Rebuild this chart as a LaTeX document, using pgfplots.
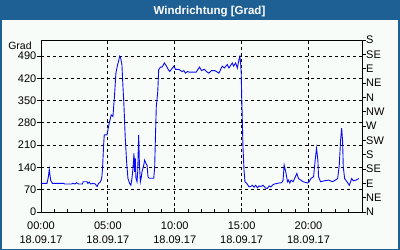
\documentclass[border=0pt]{standalone}
\usepackage{fontspec}
\setmainfont{Liberation Sans}
\usepackage{pgfplots}
\pgfplotsset{compat=1.18}
\definecolor{bar}{RGB}{30,96,148}
\definecolor{bg}{RGB}{248,252,248}
\definecolor{wline}{RGB}{10,10,245}
\begin{document}
\begin{tikzpicture}[x=1bp,y=1bp]
\useasboundingbox (0,0) rectangle (400,250);
\fill[bar] (0,0) rectangle (400,250);
\fill[bg] (2,1.5) rectangle (398,230);
\node[text=white, font=\bfseries\fontsize{11.5bp}{12bp}\selectfont, anchor=base] at (209.5,236) {Windrichtung [Grad]};
\node[font=\fontsize{10.5bp}{12bp}\selectfont, anchor=base, inner sep=0pt] at (20,200.5) {Grad};
\begin{axis}[
  at={(41bp,38bp)}, anchor=south west,
  scale only axis, width=321bp, height=172bp,
  xmin=0, xmax=24, ymin=0, ymax=540,
  xtick={0,5,10,15,20},
  xticklabels={00:00\\18.09.17,05:00\\18.09.17,10:00\\18.09.17,15:00\\18.09.17,20:00\\18.09.17},
  minor xtick={1,2,3,4,6,7,8,9,11,12,13,14,16,17,18,19,21,22,23},
  ytick={0,70,140,210,280,350,420,490},
  yticklabels={0,70,140,210,280,350,420,490},
  xtick pos=left, ytick pos=left,
  tick align=inside,
  major tick length=4bp, minor tick length=3bp,
  ytick style={xshift=-4bp},
  grid=major,
  major grid style={black, dash pattern=on 3bp off 3bp, line width=0.8bp},
  axis line style={black, line width=0.8bp},
  tick style={black, line width=0.8bp},
  tick label style={font=\fontsize{11bp}{14bp}\selectfont},
  yticklabel style={inner sep=0pt, xshift=-4.5bp},
  xticklabel style={align=center, inner sep=0pt, yshift=-9.5bp},
  /pgf/number format/assume math mode=true,
]
\addplot[wline, line width=0.9bp] coordinates {
(0.00,90) (0.45,90) (0.55,110) (0.62,134) (0.72,100) (0.85,90) (1.70,90) (1.75,88)
(2.30,88) (2.35,90) (2.55,88) (2.65,92) (2.80,88) (3.10,88) (3.15,95) (3.45,95)
(3.50,90) (3.60,94) (3.70,88) (3.90,90) (4.05,88) (4.20,80) (4.30,90) (4.40,92)
(4.50,100) (4.55,110) (4.60,136) (4.68,210) (4.73,242) (4.93,242) (5.05,268) (5.13,284)
(5.25,305) (5.38,300) (5.50,368) (5.60,436) (5.73,463) (5.80,473) (5.88,489) (5.95,484)
(6.05,463) (6.12,400) (6.20,336) (6.30,232) (6.40,158) (6.50,106) (6.63,89) (6.72,84)
(6.80,106) (6.88,137) (6.95,184) (7.00,126) (7.05,168) (7.10,106) (7.18,95) (7.23,126)
(7.30,242) (7.36,147) (7.43,95) (7.50,110) (7.55,126) (7.68,147) (7.75,163) (7.85,152)
(7.93,147) (8.00,110) (8.10,106) (8.43,106) (8.50,142) (8.55,226) (8.62,331) (8.73,378)
(8.80,447) (8.93,455) (9.05,455) (9.23,468) (9.38,458) (9.50,448) (9.63,441) (9.75,448)
(9.93,458) (10.05,448) (10.30,448) (10.55,441) (10.68,444) (10.80,436) (10.95,441) (11.10,439)
(11.30,439) (11.60,439) (11.85,455) (12.00,444) (12.20,448) (12.40,440) (12.55,436) (12.75,444)
(13.00,444) (13.30,436) (13.55,458) (13.70,452) (13.93,463) (14.05,452) (14.30,468) (14.40,458)
(14.55,468) (14.68,452) (14.80,478) (14.87,488) (14.93,464) (14.97,436) (15.00,373) (15.05,289)
(15.10,205) (15.18,131) (15.25,95) (15.40,89) (15.55,79) (15.68,80) (15.80,84) (15.93,78)
(16.05,84) (16.18,76) (16.30,82) (16.45,80) (16.60,84) (16.80,75) (16.93,74) (17.05,82)
(17.18,79) (17.35,86) (17.55,89) (17.80,91) (18.00,92) (18.10,100) (18.18,147) (18.30,126)
(18.43,95) (18.50,100) (18.60,91) (18.70,100) (18.85,95) (19.13,121) (19.25,105) (19.43,100)
(19.60,95) (19.93,91) (20.05,95) (20.18,105) (20.38,111) (20.50,163) (20.60,200) (20.70,163)
(20.75,111) (20.90,95) (21.18,98) (21.50,100) (21.80,95) (22.00,100) (22.18,105) (22.30,147)
(22.40,226) (22.48,263) (22.55,221) (22.60,142) (22.70,105) (22.88,95) (23.05,84) (23.23,105)
(23.35,98) (23.55,100) (23.76,105)
};
\end{axis}
\begin{axis}[
  at={(41bp,38bp)}, anchor=south west,
  scale only axis, width=321bp, height=172bp,
  xmin=0, xmax=24, ymin=0, ymax=540,
  axis x line=none, axis y line*=right,
  ytick={0,45,...,540},
  yticklabels={N,NE,E,SE,S,SW,W,NW,N,NE,E,SE,S},
  tick align=outside, major tick length=4bp,
  axis line style={black, line width=0.8bp},
  tick style={black, line width=0.8bp},
  yticklabel style={inner sep=0pt, anchor=west, font=\fontsize{11bp}{14bp}\selectfont},
]
\end{axis}
\end{tikzpicture}
\end{document}
